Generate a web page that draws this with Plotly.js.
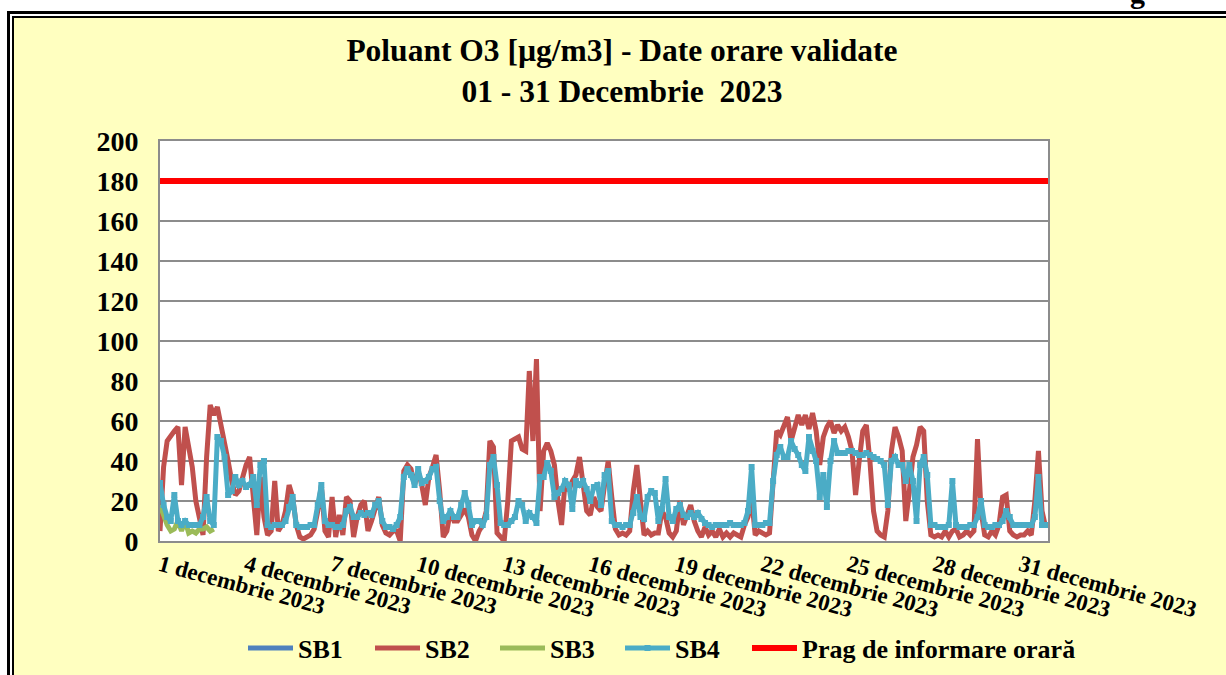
<!DOCTYPE html>
<html><head><meta charset="utf-8">
<script src="https://cdn.plot.ly/plotly-3.0.1.min.js"></script>
<style>
html,body{margin:0;padding:0;width:1226px;height:675px;overflow:hidden;background:#fff;}
#f1{position:absolute;left:7px;top:11px;width:1300px;height:800px;border-left:3px solid #000;border-top:3px solid #000;background:#fff;}
#f2{position:absolute;left:12px;top:16px;width:1300px;height:800px;border-left:2px solid #000;border-top:2px solid #000;background:#FFFFC0;}
#g{position:absolute;left:1130px;top:-24px;font:bold 30px 'Liberation Serif',serif;color:#000;}
#chart{position:absolute;left:0;top:0;width:1226px;height:675px;}
</style></head><body>
<div id="f1"></div><div id="f2"></div><div id="g">g</div>
<div id="chart"></div>
<script>
// hourly series sampled every 3 hours, starting 1 Dec 00:00
const stepHours = 3;
const seriesNames = ['SB1', 'SB2', 'SB3', 'SB4', 'Prag de informare orară'];
const sb1 = [null];
const sb2 = [
  5,37,50,53,55,57,28,57,45,37,20,10,3,42,68,63,67,58,50,40,30,23,25,32,38,42,20,3,32,12,3,5,30,5,8,15,28,22,8,2,1,2,
  3,6,15,28,5,2,22,2,13,3,22,20,2,12,18,20,5,10,17,22,8,4,3,5,5,0,35,38,36,28,35,28,18,32,37,43,25,2,5,15,10,
  10,13,16,12,3,0,5,8,15,50,47,4,2,0,20,50,51,52,46,45,85,50,91,15,45,49,45,38,20,8,30,25,30,33,42,28,15,13,22,17,15,
  28,40,22,6,3,4,3,5,25,38,20,3,5,3,4,4,15,12,4,2,5,20,8,14,18,10,5,2,7,3,5,2,6,2,4,2,4,3,2,8,12,22,
  3,5,4,3,4,30,55,53,58,62,50,57,63,58,63,56,64,55,38,52,57,60,54,58,55,57,52,45,23,40,55,58,40,15,5,3,2,15,45,57,52,
  45,10,25,42,48,57,55,20,3,2,3,2,5,2,5,6,2,3,5,3,5,51,15,3,2,5,3,8,22,23,5,3,2,3,3,5,3,20,45,15,7
];
const sb3 = [18,12,8,5,6,10,5,10,4,5,4,6,6,7,5,6];
const sb4 = [
  29,18,12,10,23,10,8,10,8,8,8,8,12,22,10,8,52,50,42,23,25,32,28,30,27,28,32,18,38,40,8,7,8,8,8,10,17,22,8,7,7,7,
  8,8,18,28,10,8,8,7,7,8,15,17,12,12,14,13,14,13,18,20,10,7,7,6,8,12,32,36,33,28,36,29,30,32,36,37,20,10,12,15,12,
  12,18,24,18,8,10,10,8,12,38,42,28,9,8,8,10,12,20,18,10,14,12,9,32,32,39,35,22,24,26,30,28,16,30,28,30,26,20,27,28,18,
  33,35,10,8,8,7,8,8,14,22,12,11,22,25,24,10,16,31,12,10,16,18,13,12,14,12,14,11,9,8,7,8,8,8,8,9,8,8,8,9,15,37,
  8,8,8,9,9,30,43,47,42,42,50,46,43,38,35,52,45,40,22,33,17,40,50,44,44,44,45,45,44,43,43,44,43,42,41,40,38,18,40,42,38,
  38,30,38,30,10,38,42,33,8,8,7,7,7,8,30,8,7,7,7,8,8,12,20,8,7,7,8,8,10,15,12,8,8,8,8,8,8,12,32,8,8
];
const threshold = 180;
const totalHours = 744;
const tickDays = [1,4,7,10,13,16,19,22,25,28,31];
const tickLabels = ['1 decembrie 2023','4 decembrie 2023','7 decembrie 2023','10 decembrie 2023','13 decembrie 2023','16 decembrie 2023','19 decembrie 2023','22 decembrie 2023','25 decembrie 2023','28 decembrie 2023','31 decembrie 2023'];
const yTicks = [0,20,40,60,80,100,120,140,160,180,200];

const hrs = arr => arr.map((_, i) => i * stepHours);
const FONT = 'Liberation Serif, Times New Roman, serif';
const legendIds = ['legend', 'legend2', 'legend3', 'legend4', 'legend5'];
const legendLeftPx = [243, 370, 495, 620, 747];

const traces = [
  {name: seriesNames[0], legend: legendIds[0], x: [0], y: sb1, type: 'scatter', mode: 'lines', line: {color: '#4F81BD', width: 5}},
  {name: seriesNames[1], legend: legendIds[1], x: hrs(sb2), y: sb2, type: 'scatter', mode: 'lines', line: {color: '#C0504D', width: 5}},
  {name: seriesNames[2], legend: legendIds[2], x: hrs(sb3), y: sb3, type: 'scatter', mode: 'lines', line: {color: '#9BBB59', width: 5}},
  {name: seriesNames[3], legend: legendIds[3], x: hrs(sb4), y: sb4, type: 'scatter', mode: 'lines+markers', line: {color: '#4BACC6', width: 5},
   marker: {symbol: 'square', size: 6, color: '#4BACC6'}},
  {name: seriesNames[4], legend: legendIds[4], x: [0, totalHours - 1], y: [threshold, threshold], type: 'scatter', mode: 'lines', line: {color: '#FF0000', width: 6}}
];

const layout = {
  width: 1226, height: 675,
  margin: {l: 160, r: 178, t: 141, b: 134, pad: 0, autoexpand: false},
  paper_bgcolor: 'rgba(0,0,0,0)',
  plot_bgcolor: '#FFFFFF',
  showlegend: true,
  title: {
    text: 'Poluant O3 [µg/m3] - Date orare validate<br>01 - 31 Decembrie\u00a0 2023',
    font: {family: FONT, size: 31.5, color: '#000', weight: 'bold'},
    x: 622/1226, xref: 'container', xanchor: 'center',
    y: 1 - 61/675, yref: 'container', yanchor: 'top'
  },
  xaxis: {
    range: [0, totalHours - 1],
    tickvals: tickDays.map(d => (d - 1) * 24),
    ticktext: tickLabels,
    tickangle: 15,
    tickfont: {family: FONT, size: 23, color: '#000', weight: 'bold'},
    showgrid: false, zeroline: false, automargin: false,
    showline: true, linecolor: '#8C8C8C', linewidth: 2, mirror: true,
    ticks: '', fixedrange: true
  },
  yaxis: {
    range: [0, 200],
    tickvals: yTicks,
    tickfont: {family: FONT, size: 28, color: '#000', weight: 'bold'},
    showgrid: true, gridcolor: '#8C8C8C', gridwidth: 2,
    zeroline: false, automargin: false,
    showline: true, linecolor: '#8C8C8C', linewidth: 2, mirror: true,
    ticks: 'outside', ticklen: 14, tickcolor: 'rgba(0,0,0,0)', fixedrange: true
  }
};

legendIds.forEach((id, i) => {
  layout[id] = {
    orientation: 'h', x: (legendLeftPx[i] - 160) / 888, xanchor: 'left', y: -107/400, yanchor: 'middle',
    font: {family: FONT, size: 26, color: '#000', weight: 'bold'},
    itemwidth: 45, bgcolor: 'rgba(0,0,0,0)'
  };
});

Plotly.newPlot('chart', traces, layout, {displayModeBar: false, staticPlot: true});
</script>
</body></html>
